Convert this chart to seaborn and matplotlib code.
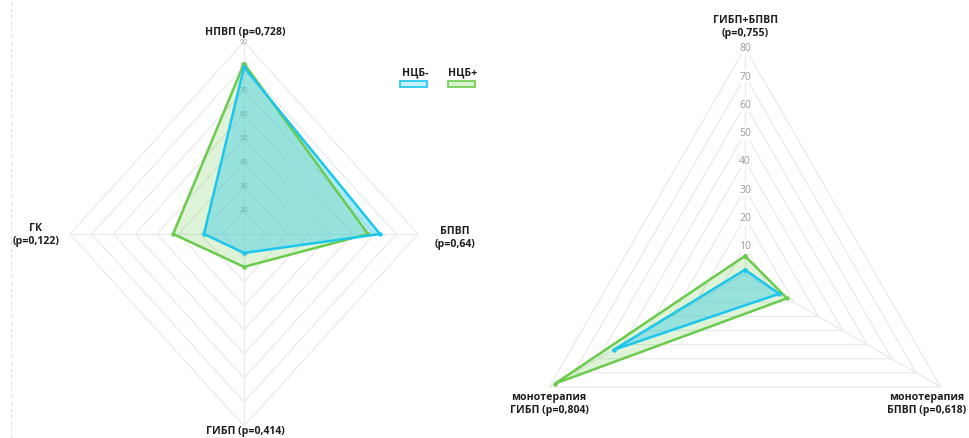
import numpy as np
import pandas as pd
import matplotlib
matplotlib.use("Agg")
import matplotlib.pyplot as plt
from matplotlib.patches import Rectangle
import seaborn as sns

# ---- data -------------------------------------------------------------
groups = ["НЦБ-", "НЦБ+"]

# left chart: axes clockwise from the top
left_axes = ["НПВП (p=0,728)", "БПВП\n(p=0,64)", "ГИБП (p=0,414)", "ГК\n(p=0,122)"]
left_neg = [79.5, 72.5, 17.9, 28.4]
left_pos = [81.0, 67.0, 23.7, 42.6]
left_ticks = [20, 30, 40, 50, 60, 70, 80, 90]

# right chart: axes clockwise from the top
right_axes = ["ГИБП+БПВП\n(p=0,755)", "монотерапия\nБПВП (p=0,618)", "монотерапия\nГИБП (p=0,804)"]
right_neg = [1.5, 14.0, 53.7]
right_pos = [6.4, 17.2, 77.6]
right_ticks = [10, 20, 30, 40, 50, 60, 70, 80]

CYAN = "#1cc6ec"
GREEN = "#6acb4c"
GRID = "#eaeaea"

sns.set_theme(style="white")
plt.rcParams["font.family"] = ["Open Sans", "DejaVu Sans"]

W, H = 970, 439
fig = plt.figure(figsize=(W / 100, H / 100), dpi=100)


def px_box(cx, cy, rx, ry):
    """Axes rectangle (figure fraction) for a radar centred at pixel (cx, cy)."""
    return [(cx - rx) / W, 1 - (cy + ry) / H, 2 * rx / W, 2 * ry / H]


def fx(x):
    return x / W


def fy(y):
    return 1 - y / H


def radar(ax, n, rmin, rmax, ticks, neg, pos, tick_size, tick_backdrop):
    ax.set_theta_zero_location("N")
    ax.set_theta_direction(-1)
    ax.set_ylim(rmin, rmax)
    ax.set_aspect("auto")
    ax.grid(False)
    ax.set_xticks([])
    ax.set_yticks([])
    ax.spines["polar"].set_visible(False)
    ax.patch.set_alpha(0)

    theta = np.linspace(0, 2 * np.pi, n, endpoint=False)
    closed = np.append(theta, 2 * np.pi)

    # polygonal grid + spokes
    for t in ticks:
        ax.plot(closed, [t] * (n + 1), color=GRID, lw=0.9, zorder=1)
    for th in theta:
        ax.plot([th, th], [rmin, rmax], color=GRID, lw=0.9, zorder=1)

    # radial tick labels along the top spoke
    for t in ticks:
        kw = {}
        if tick_backdrop:
            kw["bbox"] = dict(boxstyle="square,pad=0.15", fc="white", ec="none")
        ax.text(0, t, str(t), ha="center", va="center", fontsize=tick_size,
                color="#9a9a9a", zorder=2, **kw)

    # series
    for vals, color, falpha, z in [(pos, GREEN, 0.22, 3), (neg, CYAN, 0.36, 4)]:
        rr = list(vals) + [vals[0]]
        ax.fill(closed, rr, color=color, alpha=falpha, lw=0, zorder=z)
        df = pd.DataFrame({"theta": closed, "r": rr})
        sns.lineplot(data=df, x="theta", y="r", sort=False, estimator=None, ax=ax,
                     color=color, lw=1.8, marker="o", markersize=3.2,
                     markeredgewidth=0, zorder=z + 2)
    ax.set_xlabel("")
    ax.set_ylabel("")


# left radar: centre (244, 235), horizontal radius 174 px, vertical 192 px
axL = fig.add_axes(px_box(244, 235, 174, 192), projection="polar")
radar(axL, 4, 10, 90, left_ticks, left_neg, left_pos, 5, False)

# right radar: centre (745, 275), radius 226 px
axR = fig.add_axes(px_box(745, 275, 226, 226), projection="polar")
radar(axR, 3, 0, 80, right_ticks, right_neg, right_pos, 7.5, True)

# axis titles
lab = dict(fontsize=7.6, fontweight="bold", color="#1e1e1e", ha="center",
           va="center", linespacing=1.35)
fig.text(fx(245), fy(33), left_axes[0], **lab)
fig.text(fx(455), fy(238), left_axes[1], **lab)
fig.text(fx(245), fy(432), left_axes[2], **lab)
fig.text(fx(36), fy(235), left_axes[3], **lab)
fig.text(fx(745), fy(27), right_axes[0], **lab)
fig.text(fx(927), fy(404), right_axes[1], **lab)
fig.text(fx(549), fy(404), right_axes[2], **lab)

# legend: label above a small swatch
for name, color, xc in [(groups[0], CYAN, 414), (groups[1], GREEN, 462)]:
    fig.text(fx(xc + 1), fy(73), name, fontsize=7.6, fontweight="bold",
             color="#1e1e1e", ha="center", va="center")
    fig.patches.append(Rectangle((fx(xc - 13.5), fy(88)), 27 / W, 6 / H,
                                 transform=fig.transFigure, fc=color, alpha=0.25,
                                 ec="none"))
    fig.patches.append(Rectangle((fx(xc - 13.5), fy(88)), 27 / W, 6 / H,
                                 transform=fig.transFigure, fc="none", ec=color,
                                 lw=1.2))

# faint dashed guide at the left edge
fig.add_artist(plt.Line2D([fx(11), fx(11)], [0, 1], transform=fig.transFigure,
                          color="#dddddd", lw=0.8, ls=(0, (3, 3))))

fig.savefig("out.png", dpi=100, facecolor="white")
